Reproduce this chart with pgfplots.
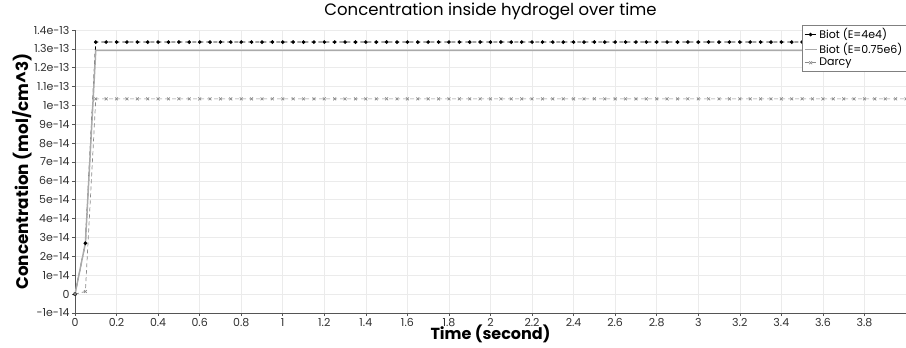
\documentclass[border=0pt]{standalone}
\usepackage{fontspec}
\setmainfont{Poppins}
\usepackage{pgfplots}
\pgfplotsset{compat=1.18}
\usepackage{pgfplotstable}
\definecolor{gridc}{HTML}{EBEBEB}
\definecolor{axc}{HTML}{555555}
\definecolor{txtc}{HTML}{303030}
\definecolor{biotB}{HTML}{AAAAAA}
\definecolor{darcyc}{HTML}{8A8A8A}
\pgfplotstableread{
t b1 b2 d
0 0 0 0
0.05 2.7e-14 2.7e-14 1.4e-15
0.1 1.336e-13 1.292e-13 1.035e-13
0.15 1.336e-13 1.292e-13 1.035e-13
0.2 1.336e-13 1.292e-13 1.035e-13
0.25 1.336e-13 1.292e-13 1.035e-13
0.3 1.336e-13 1.292e-13 1.035e-13
0.35 1.336e-13 1.292e-13 1.035e-13
0.4 1.336e-13 1.292e-13 1.035e-13
0.45 1.336e-13 1.292e-13 1.035e-13
0.5 1.336e-13 1.292e-13 1.035e-13
0.55 1.336e-13 1.292e-13 1.035e-13
0.6 1.336e-13 1.292e-13 1.035e-13
0.65 1.336e-13 1.292e-13 1.035e-13
0.7 1.336e-13 1.292e-13 1.035e-13
0.75 1.336e-13 1.292e-13 1.035e-13
0.8 1.336e-13 1.292e-13 1.035e-13
0.85 1.336e-13 1.292e-13 1.035e-13
0.9 1.336e-13 1.292e-13 1.035e-13
0.95 1.336e-13 1.292e-13 1.035e-13
1 1.336e-13 1.292e-13 1.035e-13
1.05 1.336e-13 1.292e-13 1.035e-13
1.1 1.336e-13 1.292e-13 1.035e-13
1.15 1.336e-13 1.292e-13 1.035e-13
1.2 1.336e-13 1.292e-13 1.035e-13
1.25 1.336e-13 1.292e-13 1.035e-13
1.3 1.336e-13 1.292e-13 1.035e-13
1.35 1.336e-13 1.292e-13 1.035e-13
1.4 1.336e-13 1.292e-13 1.035e-13
1.45 1.336e-13 1.292e-13 1.035e-13
1.5 1.336e-13 1.292e-13 1.035e-13
1.55 1.336e-13 1.292e-13 1.035e-13
1.6 1.336e-13 1.292e-13 1.035e-13
1.65 1.336e-13 1.292e-13 1.035e-13
1.7 1.336e-13 1.292e-13 1.035e-13
1.75 1.336e-13 1.292e-13 1.035e-13
1.8 1.336e-13 1.292e-13 1.035e-13
1.85 1.336e-13 1.292e-13 1.035e-13
1.9 1.336e-13 1.292e-13 1.035e-13
1.95 1.336e-13 1.292e-13 1.035e-13
2 1.336e-13 1.292e-13 1.035e-13
2.05 1.336e-13 1.292e-13 1.035e-13
2.1 1.336e-13 1.292e-13 1.035e-13
2.15 1.336e-13 1.292e-13 1.035e-13
2.2 1.336e-13 1.292e-13 1.035e-13
2.25 1.336e-13 1.292e-13 1.035e-13
2.3 1.336e-13 1.292e-13 1.035e-13
2.35 1.336e-13 1.292e-13 1.035e-13
2.4 1.336e-13 1.292e-13 1.035e-13
2.45 1.336e-13 1.292e-13 1.035e-13
2.5 1.336e-13 1.292e-13 1.035e-13
2.55 1.336e-13 1.292e-13 1.035e-13
2.6 1.336e-13 1.292e-13 1.035e-13
2.65 1.336e-13 1.292e-13 1.035e-13
2.7 1.336e-13 1.292e-13 1.035e-13
2.75 1.336e-13 1.292e-13 1.035e-13
2.8 1.336e-13 1.292e-13 1.035e-13
2.85 1.336e-13 1.292e-13 1.035e-13
2.9 1.336e-13 1.292e-13 1.035e-13
2.95 1.336e-13 1.292e-13 1.035e-13
3 1.336e-13 1.292e-13 1.035e-13
3.05 1.336e-13 1.292e-13 1.035e-13
3.1 1.336e-13 1.292e-13 1.035e-13
3.15 1.336e-13 1.292e-13 1.035e-13
3.2 1.336e-13 1.292e-13 1.035e-13
3.25 1.336e-13 1.292e-13 1.035e-13
3.3 1.336e-13 1.292e-13 1.035e-13
3.35 1.336e-13 1.292e-13 1.035e-13
3.4 1.336e-13 1.292e-13 1.035e-13
3.45 1.336e-13 1.292e-13 1.035e-13
3.5 1.336e-13 1.292e-13 1.035e-13
3.55 1.336e-13 1.292e-13 1.035e-13
3.6 1.336e-13 1.292e-13 1.035e-13
3.65 1.336e-13 1.292e-13 1.035e-13
3.7 1.336e-13 1.292e-13 1.035e-13
3.75 1.336e-13 1.292e-13 1.035e-13
3.8 1.336e-13 1.292e-13 1.035e-13
3.85 1.336e-13 1.292e-13 1.035e-13
3.9 1.336e-13 1.292e-13 1.035e-13
3.95 1.336e-13 1.292e-13 1.035e-13
4 1.336e-13 1.292e-13 1.035e-13
}\datatable
\begin{document}
\begin{tikzpicture}[x=1pt,y=1pt]
\useasboundingbox (-75,-35) rectangle (831,313);
\begin{axis}[
  at={(0,0)}, anchor=south west,
  scale only axis, width=831pt, height=283pt,
  xmin=0, xmax=4, ymin=-1e-14, ymax=1.4e-13,
  axis x line*=bottom, axis y line*=left,
  axis line style={axc, line width=0.8pt},
  tick align=outside, major tick length=3pt,
  tick style={axc, line width=0.6pt},
  grid=major, major grid style={gridc, line width=0.6pt},
  xtick={0,0.2,0.4,0.6,0.8,1,1.2,1.4,1.6,1.8,2,2.2,2.4,2.6,2.8,3,3.2,3.4,3.6,3.8},
  xticklabels={0,0.2,0.4,0.6,0.8,1,1.2,1.4,1.6,1.8,2,2.2,2.4,2.6,2.8,3,3.2,3.4,3.6,3.8},
  ytick={-1e-14,0,1e-14,2e-14,3e-14,4e-14,5e-14,6e-14,7e-14,8e-14,9e-14,1e-13,1.1e-13,1.2e-13,1.3e-13,1.4e-13},
  yticklabels={-1e-14,0,1e-14,2e-14,3e-14,4e-14,5e-14,6e-14,7e-14,8e-14,9e-14,1e-13,1.1e-13,1.2e-13,1.3e-13,1.4e-13},
  scaled y ticks=false, scaled x ticks=false,
  /pgf/number format/assume math mode=true,
  ticklabel style={font=\fontsize{11}{12}\selectfont, text=txtc},
  xticklabel style={yshift=1pt},
  yticklabel style={xshift=1pt},
  title={Concentration inside hydrogel over time},
  title style={at={(axis description cs:0.5,1)}, anchor=base, yshift=8pt, font=\fontsize{16.5}{18}\selectfont, text=black},
  xlabel={\bfseries Time (second)},
  xlabel style={at={(axis description cs:0.5,0)}, anchor=base, yshift=-27pt, font=\fontsize{16}{18}\selectfont},
  ylabel={\bfseries Concentration (mol/cm\textasciicircum3)},
  ylabel style={at={(axis description cs:-0.0554,0.5)}, anchor=base, font=\fontsize{16.8}{18}\selectfont},
  legend style={at={(axis description cs:1,1.0177)}, anchor=north east, draw=gray, fill=white,
    font=\fontsize{11}{12}\selectfont, row sep=-1pt, inner sep=1.5pt, cells={anchor=west}},
  legend image code/.code={\draw[#1,mark repeat=2,mark phase=2] plot coordinates {(0pt,0pt) (6pt,0pt) (12pt,0pt)};},
]
\addplot[black, line width=0.8pt, dash pattern=on 4pt off 3pt, mark=*, mark size=1.4pt, mark options={solid}] table[x=t,y=b1] {\datatable};
\addlegendentry{Biot (E=4e4)}
\addplot[biotB, line width=1.5pt] table[x=t,y=b2] {\datatable};
\addlegendentry{Biot (E=0.75e6)}
\addplot[darcyc, line width=0.7pt, dash pattern=on 4pt off 3pt, mark=x, mark size=2pt, mark options={solid}] table[x=t,y=d] {\datatable};
\addlegendentry{Darcy}
\end{axis}
\end{tikzpicture}
\end{document}
